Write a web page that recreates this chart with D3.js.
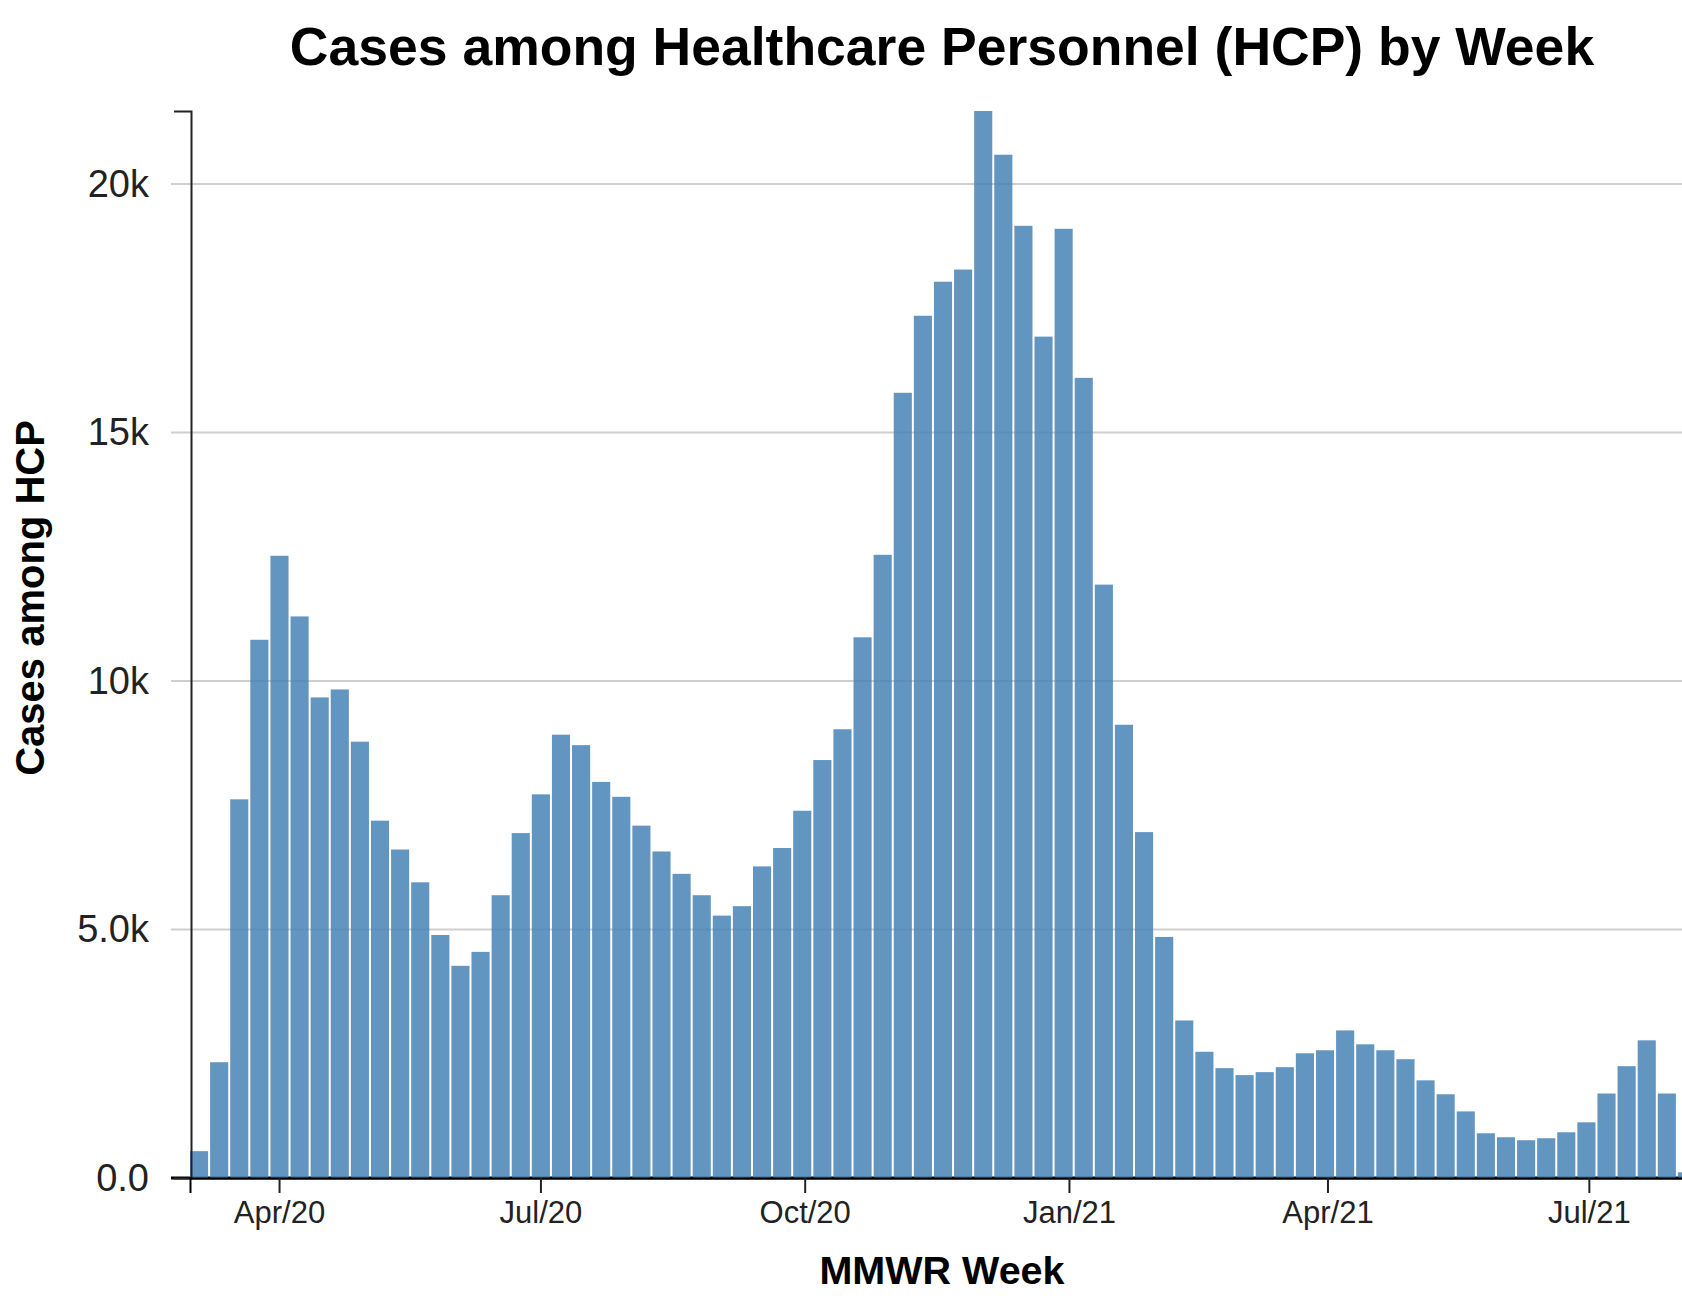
<!DOCTYPE html>
<html>
<head>
<meta charset="utf-8">
<script src="https://cdn.jsdelivr.net/npm/d3@7"></script>
<style>
  html, body { margin: 0; padding: 0; background: #fff; }
  svg { display: block; font-family: "Liberation Sans", Arial, Helvetica, sans-serif; }
</style>
</head>
<body>
<svg id="chart" width="1682" height="1315"></svg>
<script>
// ---- Data ----
const weekStarts = [
  "2020-03-01","2020-03-08","2020-03-15","2020-03-22","2020-03-29",
  "2020-04-05","2020-04-12","2020-04-19","2020-04-26",
  "2020-05-03","2020-05-10","2020-05-17","2020-05-24","2020-05-31",
  "2020-06-07","2020-06-14","2020-06-21","2020-06-28",
  "2020-07-05","2020-07-12","2020-07-19","2020-07-26",
  "2020-08-02","2020-08-09","2020-08-16","2020-08-23","2020-08-30",
  "2020-09-06","2020-09-13","2020-09-20","2020-09-27",
  "2020-10-04","2020-10-11","2020-10-18","2020-10-25",
  "2020-11-01","2020-11-08","2020-11-15","2020-11-22","2020-11-29",
  "2020-12-06","2020-12-13","2020-12-20","2020-12-27",
  "2021-01-03","2021-01-10","2021-01-17","2021-01-24","2021-01-31",
  "2021-02-07","2021-02-14","2021-02-21","2021-02-28",
  "2021-03-07","2021-03-14","2021-03-21","2021-03-28",
  "2021-04-04","2021-04-11","2021-04-18","2021-04-25",
  "2021-05-02","2021-05-09","2021-05-16","2021-05-23","2021-05-30",
  "2021-06-06","2021-06-13","2021-06-20","2021-06-27",
  "2021-07-04","2021-07-11","2021-07-18","2021-07-25",
  "2021-08-01"
];
const hcpCases = [
  540, 2330, 7620, 10830, 12520,
  11300, 9670, 9830, 8780,
  7190, 6610, 5950, 4890, 4270,
  4550, 5690, 6940, 7720,
  8920, 8710, 7970, 7670,
  7090, 6570, 6120, 5690, 5280,
  5470, 6270, 6640, 7390,
  8410, 9030, 10880, 12540,
  15800, 17350, 18035, 18280, 21470,
  20590, 19160, 16930, 19100,
  16100, 11940, 9120, 6960, 4850,
  3170, 2540, 2210, 2070,
  2130, 2230, 2510, 2570,
  2970, 2690, 2570, 2390,
  1965, 1685, 1340, 900, 820,
  760, 800, 920, 1120,
  1700, 2250, 2770, 1700,
  115
];
const xDomain = ["2020-03-01", "2021-08-08"];
const titleText = "Cases among Healthcare Personnel (HCP) by Week";
const xLabelText = "MMWR Week";
const yLabelText = "Cases among HCP";

// ---- Layout ----
const W = 1682, H = 1315;
const plotLeft = 190, plotRight = 1698, plotTop = 111, plotBottom = 1178;
const parse = d3.utcParse("%Y-%m-%d");
const data = weekStarts.map((d, i) => ({ date: parse(d), value: hcpCases[i] }));

const svg = d3.select("#chart");

const x = d3.scaleUtc()
  .domain(xDomain.map(parse))
  .range([plotLeft, plotRight]);

const y = d3.scaleLinear()
  .domain([0, d3.max(hcpCases)])
  .range([plotBottom, plotTop]);

// gridlines
const yTicks = y.ticks(5);
svg.append("g").attr("class", "grid")
  .selectAll("line").data(yTicks).join("line")
  .attr("x1", 171).attr("x2", W)
  .attr("y1", d => y(d)).attr("y2", d => y(d))
  .attr("stroke", d => d === 0 ? "#000" : "#cfcfcf")
  .attr("stroke-width", d => d === 0 ? 3 : 2);

// bars
svg.append("g").attr("class", "bars")
  .selectAll("rect").data(data).join("rect")
  .attr("x", d => x(d.date))
  .attr("width", d => x(d3.utcDay.offset(d.date, 7)) - x(d.date) - 2)
  .attr("y", d => y(d.value))
  .attr("height", d => y(0) - y(d.value))
  .attr("fill", "steelblue")
  .attr("fill-opacity", 0.85);

// y axis
const yAxis = svg.append("g")
  .attr("transform", `translate(191,0)`)
  .call(d3.axisLeft(y).ticks(5).tickFormat(d3.format(".2s"))
    .tickSizeInner(0).tickSizeOuter(17).tickPadding(42));
yAxis.select(".domain").attr("stroke", "#222").attr("stroke-width", 2);
yAxis.selectAll(".tick text")
  .attr("font-size", 38).attr("fill", "#222")
  .attr("font-family", "'Liberation Sans', Arial, Helvetica, sans-serif");

// x axis
const xAxis = svg.append("g")
  .attr("transform", `translate(0,${plotBottom})`)
  .call(d3.axisBottom(x).ticks(d3.utcMonth.every(3)).tickFormat(d3.utcFormat("%b/%y"))
    .tickSize(15).tickSizeOuter(15).tickPadding(8));
xAxis.select(".domain").attr("stroke", "#000").attr("stroke-width", 2);
xAxis.selectAll(".tick line").attr("stroke", "#222").attr("stroke-width", 2);
xAxis.selectAll(".tick text")
  .attr("font-size", 31).attr("fill", "#222")
  .attr("font-family", "'Liberation Sans', Arial, Helvetica, sans-serif");

// title
svg.append("text")
  .attr("x", 942).attr("y", 65)
  .attr("text-anchor", "middle")
  .attr("font-size", 53.5).attr("font-weight", "bold").attr("fill", "#000")
  .text(titleText);

// x label
svg.append("text")
  .attr("x", 942).attr("y", 1284)
  .attr("text-anchor", "middle")
  .attr("font-size", 39.5).attr("font-weight", "bold").attr("fill", "#000")
  .text(xLabelText);

// y label
svg.append("text")
  .attr("transform", "translate(44,598) rotate(-90)")
  .attr("text-anchor", "middle")
  .attr("font-size", 40).attr("font-weight", "bold").attr("fill", "#000")
  .text(yLabelText);
</script>
</body>
</html>
